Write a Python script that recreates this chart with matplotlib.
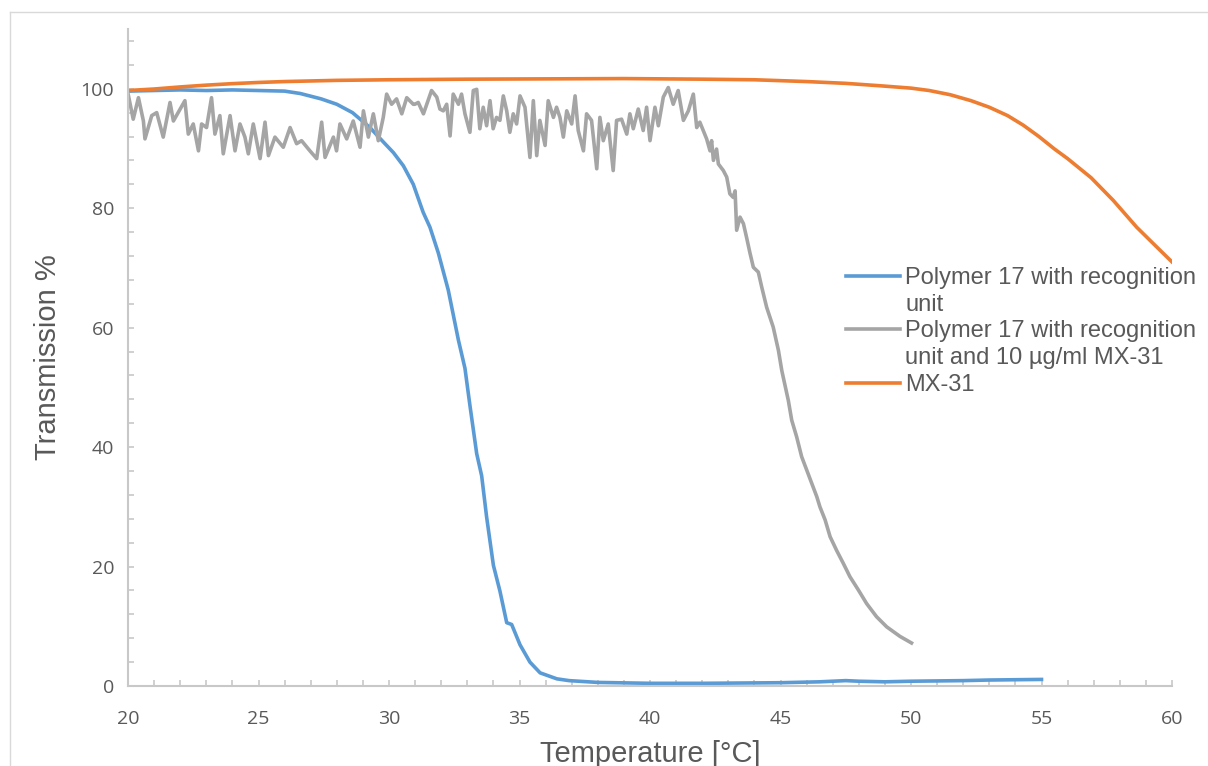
import matplotlib
matplotlib.use("Agg")
import matplotlib.pyplot as plt
from matplotlib.lines import Line2D
from matplotlib.ticker import MultipleLocator

# turbidity scans, transmission (%) vs temperature (°C)
t_blue = [20.0, 21.0, 22.0, 23.0, 24.0, 25.0, 26.0, 26.6, 27.4, 28.0, 28.6,
          29.27, 29.78, 30.17, 30.55, 30.93, 31.31, 31.57, 31.89, 32.27,
          32.53, 32.66, 32.91, 33.10, 33.36, 33.55, 33.74, 34.0, 34.25,
          34.51, 34.70, 35.02, 35.40, 35.79, 36.43, 36.9, 38.0, 40.0, 42.0,
          45.0, 46.5, 47.5, 48.0, 49.0, 50.0, 51.0, 52.0, 53.0, 54.0, 55.0]
v_blue = [99.6, 99.7, 99.8, 99.7, 99.8, 99.7, 99.6, 99.2, 98.3, 97.4, 96.0,
          93.5, 91.1, 89.3, 87.1, 84.0, 79.3, 76.8, 72.5, 66.3,
          60.7, 57.9, 53.2, 47.0, 38.9, 35.2, 28.3, 20.2, 15.9,
          10.6, 10.3, 6.9, 4.0, 2.2, 1.2, 0.9, 0.6, 0.45, 0.45,
          0.55, 0.7, 0.9, 0.8, 0.7, 0.8, 0.85, 0.9, 1.0, 1.05, 1.1]

t_gray = [20.0, 20.2, 20.4, 20.59, 20.65, 20.91, 21.1, 21.35, 21.61, 21.74,
          22.18, 22.31, 22.5, 22.7, 22.82, 23.01, 23.2, 23.33, 23.52, 23.65,
          23.91, 24.1, 24.29, 24.48, 24.61, 24.8, 25.06, 25.25, 25.38, 25.63,
          25.95, 26.21, 26.46, 26.65, 26.97, 27.23, 27.42, 27.55, 27.87, 27.99,
          28.12, 28.38, 28.63, 28.89, 29.02, 29.21, 29.4, 29.59, 29.78, 29.91,
          30.1, 30.29, 30.49, 30.68, 30.93, 30.99, 31.12, 31.32, 31.63, 31.83,
          31.95, 32.08, 32.21, 32.34, 32.46, 32.66, 32.78, 32.91, 33.10, 33.23,
          33.36, 33.48, 33.61, 33.74, 33.87, 33.99, 34.12, 34.25, 34.38, 34.51,
          34.63, 34.76, 34.89, 35.02, 35.21, 35.40, 35.53, 35.66, 35.78, 35.98,
          36.10, 36.30, 36.42, 36.55, 36.68, 36.81, 37.00, 37.13, 37.25, 37.45,
          37.57, 37.76, 37.96, 38.08, 38.21, 38.40, 38.59, 38.72, 38.91, 39.11,
          39.23, 39.36, 39.55, 39.74, 39.87, 40.0, 40.19, 40.32, 40.51, 40.70,
          40.89, 41.08, 41.28, 41.47, 41.66, 41.79, 41.91, 42.04, 42.17, 42.30,
          42.36, 42.43, 42.55, 42.62, 42.81, 42.94, 43.06, 43.19, 43.26, 43.32,
          43.45, 43.58, 43.70, 43.83, 43.96, 44.15, 44.28, 44.47, 44.72, 44.92,
          45.05, 45.30, 45.43, 45.62, 45.81, 46.01, 46.20, 46.39, 46.51, 46.71,
          46.90, 47.15, 47.41, 47.66, 47.98, 48.30, 48.68, 49.07, 49.58, 50.02]
v_gray = [99.2, 94.9, 98.5, 94.6, 91.6, 95.5, 96.0, 91.9, 97.7, 94.6,
          98.0, 92.4, 94.1, 89.6, 94.1, 93.5, 98.5, 92.4, 95.5, 89.1,
          95.5, 89.6, 94.1, 91.9, 89.1, 94.1, 88.3, 94.4, 88.8, 91.9,
          90.2, 93.5, 90.8, 91.3, 89.6, 88.3, 94.4, 88.5, 91.9, 89.6,
          94.1, 91.6, 94.6, 90.2, 96.3, 91.9, 95.8, 91.3, 95.2, 99.1,
          97.4, 98.3, 95.8, 98.5, 97.4, 97.4, 97.7, 95.8, 99.7, 98.6,
          96.6, 96.3, 97.4, 92.1, 99.1, 97.4, 99.1, 95.8, 92.7, 99.7,
          99.9, 93.3, 96.9, 93.8, 98.0, 93.3, 95.2, 94.7, 98.8, 96.3,
          92.7, 95.8, 94.1, 98.8, 96.9, 88.5, 98.0, 88.8, 94.7, 90.5,
          98.0, 95.2, 96.9, 95.2, 91.9, 96.3, 94.1, 98.8, 93.0, 89.6,
          95.8, 94.7, 86.6, 95.2, 91.3, 94.1, 86.3, 94.7, 94.9, 92.4,
          95.8, 93.3, 96.6, 93.0, 96.9, 91.3, 96.9, 93.8, 98.6, 100.2,
          97.4, 99.7, 94.7, 96.3, 99.1, 93.5, 94.4, 93.0, 91.6, 89.6,
          91.3, 88.0, 89.9, 87.4, 86.3, 85.2, 82.4, 81.8, 82.9, 76.3,
          78.5, 77.4, 75.1, 72.5, 70.1, 69.3, 66.8, 63.4, 60.1, 56.2,
          52.8, 47.8, 44.5, 41.7, 38.4, 36.1, 33.9, 31.7, 30.0, 27.8,
          25.0, 22.7, 20.5, 18.3, 16.1, 13.8, 11.6, 9.9, 8.3, 7.2]

t_orange = [20.0, 21.0, 22.0, 23.0, 24.0, 25.0, 26.0, 27.0, 28.0, 30.0, 33.0,
            36.0, 39.0, 42.0, 44.0, 46.0, 47.5, 48.8, 50.0, 50.7, 51.5, 52.3,
            53.0, 53.7, 54.3, 54.9, 55.5, 56.0, 56.9, 57.75, 58.65, 59.3, 60.0]
v_orange = [99.7, 99.95, 100.3, 100.6, 100.85, 101.05, 101.2, 101.3, 101.4,
            101.5, 101.6, 101.65, 101.7, 101.6, 101.5, 101.2, 100.9, 100.5,
            100.1, 99.7, 99.0, 98.0, 96.9, 95.5, 93.9, 92.0, 89.9, 88.3, 85.1,
            81.3, 76.8, 74.0, 71.0]

labels = ["Polymer 17 with recognition\nunit",
          "Polymer 17 with recognition\nunit and 10 µg/ml MX-31",
          "MX-31"]
colors = ["#5B9BD5", "#A5A5A5", "#ED7D31"]
txt = "#595959"
axis_col = "#C8C8C8"
lw = 2.6

W, H = 1208, 766
fig = plt.figure(figsize=(W / 100, H / 100), dpi=100)
ax = fig.add_axes([128 / W, 1 - 686 / H, (1172 - 128) / W, (686 - 29) / H])

ax.plot(t_blue, v_blue, color=colors[0], lw=lw, solid_joinstyle="round")
ax.plot(t_gray, v_gray, color=colors[1], lw=lw, solid_joinstyle="round")
ax.plot(t_orange, v_orange, color=colors[2], lw=lw, solid_joinstyle="round")

ax.set_xlim(20, 60)
ax.set_ylim(0, 110)
ax.xaxis.set_major_locator(MultipleLocator(5))
ax.xaxis.set_minor_locator(MultipleLocator(1))
ax.yaxis.set_minor_locator(MultipleLocator(4))
ax.set_yticks(range(0, 101, 20))

for s in ["top", "right"]:
    ax.spines[s].set_visible(False)
for s in ["left", "bottom"]:
    ax.spines[s].set_color(axis_col)
    ax.spines[s].set_linewidth(1.5)

ax.tick_params(which="both", direction="in", color=axis_col, width=1.2,
               length=4, labelcolor=txt, labelsize=14)
ax.tick_params(axis="x", which="major", pad=17)
ax.tick_params(axis="y", which="major", pad=10)
for lab in ax.get_xticklabels() + ax.get_yticklabels():
    lab.set_fontfamily(["Open Sans", "DejaVu Sans"])

ax.set_xlabel("Temperature [°C]", fontsize=21, color=txt,
              family="Liberation Sans", labelpad=9)
ax.set_ylabel("Transmission %", fontsize=21, color=txt,
              family="Liberation Sans", labelpad=13)

# legend rows: wrapped label lines get an empty handle so the swatch sits on the first line
rows_h, rows_l = [], []
for lab, c in zip(labels, colors):
    parts = lab.split("\n")
    rows_h.append(Line2D([], [], color=c, lw=lw))
    rows_l.append(parts[0])
    for p in parts[1:]:
        rows_h.append(Line2D([], [], color="none"))
        rows_l.append(p)
leg = fig.legend(rows_h, rows_l, loc="upper left",
                 bbox_to_anchor=(846 / W, 1 - 267 / H),
                 frameon=False, borderpad=0, borderaxespad=0,
                 handlelength=2.3, handletextpad=0.2, labelspacing=0.2,
                 prop={"family": "Liberation Sans", "size": 17})
for t in leg.get_texts():
    t.set_color(txt)

# outer chart border
fig.add_artist(Line2D([10 / W, 10 / W], [0, 1 - 12 / H], color="#D9D9D9",
                      lw=1, transform=fig.transFigure))
fig.add_artist(Line2D([10 / W, 1], [1 - 12 / H, 1 - 12 / H], color="#D9D9D9",
                      lw=1, transform=fig.transFigure))

fig.savefig("out.png", dpi=100, facecolor="white")
